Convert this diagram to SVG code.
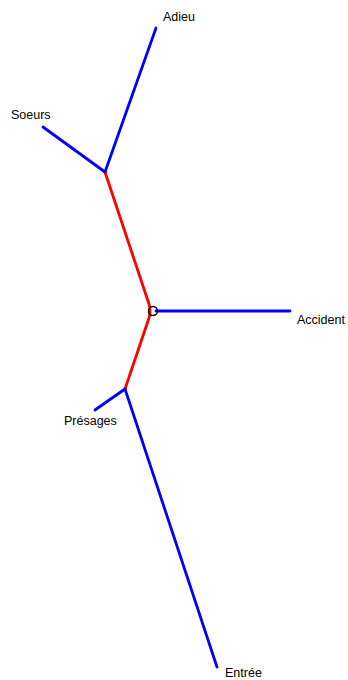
<svg xmlns="http://www.w3.org/2000/svg" width="348" height="680" viewBox="0 0 348 680">
<style>
.red{stroke:#ff0000;stroke-width:2.8;fill:none;stroke-linecap:round}
.blue{stroke:#0000ff;stroke-width:2.8;fill:none;stroke-linecap:round}
text{font-family:"Liberation Sans",Arial,sans-serif;font-size:12.5px;fill:#000}
</style>
<rect width="348" height="680" fill="#ffffff"/>
<g id="connectors">
<path class="red" d="M105,172 L149,304 Q151,311 149,318 L125,389"/>
<path class="blue" d="M105,172 L156,28"/>
<path class="blue" d="M105,172 L43,127"/>
<path class="blue" d="M156,311 L290,311"/>
<path class="blue" d="M125,389 L95,410"/>
<path class="blue" d="M125,389 L217,667"/>
<circle cx="153" cy="311" r="4.5" fill="none" stroke="#000" stroke-width="1.4"/>
</g>
<g id="adieu"><text x="163" y="21">Adieu</text></g>
<g id="soeurs"><text x="11" y="119">Soeurs</text></g>
<g id="accident"><text x="297" y="324">Accident</text></g>
<g id="presages"><text x="64" y="425">Présages</text></g>
<g id="entree"><text x="225" y="677">Entrée</text></g>
</svg>
